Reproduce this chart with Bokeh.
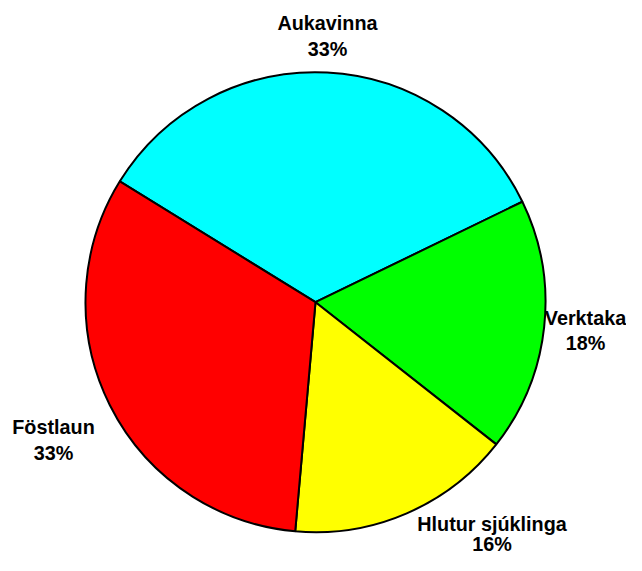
import math
from bokeh.plotting import figure
from bokeh.models import ColumnDataSource, Range1d
from bokeh.core.properties import value
from bokeh.embed import file_html
from bokeh.resources import INLINE

categories = ["Aukavinna", "Verktaka", "Hlutur sjúklinga", "Föstlaun"]
values = [34.0, 17.8, 15.8, 32.4]
pct_labels = ["33%", "18%", "16%", "33%"]
colors = ["#00FFFF", "#00FF00", "#FFFF00", "#FF0000"]

W, H = 626, 555
start_deg = 148.3
cx, cy_pix, R = 315, 301.7, 230

def yup(ypix):
    return H - ypix

total = sum(values)
starts, ends = [], []
a = math.radians(start_deg)
for v in values:
    span = 2 * math.pi * v / total
    starts.append(a)
    ends.append(a - span)
    a -= span

src = ColumnDataSource(dict(cat=categories, val=values, start=starts, end=ends, color=colors))

p = figure(width=W, height=H, output_backend="svg", toolbar_location=None,
           x_range=Range1d(0, W), y_range=Range1d(0, H),
           min_border=0)
p.axis.visible = False
p.grid.visible = False
p.outline_line_color = None
p.background_fill_color = "white"

p.wedge(x=cx, y=yup(cy_pix), radius=R, radius_units="screen",
        start_angle="start", end_angle="end", direction="clock",
        fill_color="color", line_color="black", line_width=2, source=src)

# label anchor positions (center x, first-line y, second-line y; pixels)
label_pos = [(327, 22.7, 48.7), (585, 317, 342), (491.5, 523, 543), (53, 426, 452)]
lx, ly1, ly2, t1, t2 = [], [], [], [], []
for (x, y1, y2), c, pl in zip(label_pos, categories, pct_labels):
    lx.append(x); ly1.append(yup(y1)); ly2.append(yup(y2))
    t1.append(c); t2.append(pl)

lsrc = ColumnDataSource(dict(x=lx, y1=ly1, y2=ly2, t1=t1, t2=t2))
for ycol, tcol in (("y1", "t1"), ("y2", "t2")):
    p.text(x="x", y=ycol, text=tcol, source=lsrc,
           text_font=value("Liberation Sans"), text_font_style="bold",
           text_font_size="19.8px", text_align="center",
           text_baseline="alphabetic", text_color="black")

open("out.html", "w").write(file_html(p, INLINE))
